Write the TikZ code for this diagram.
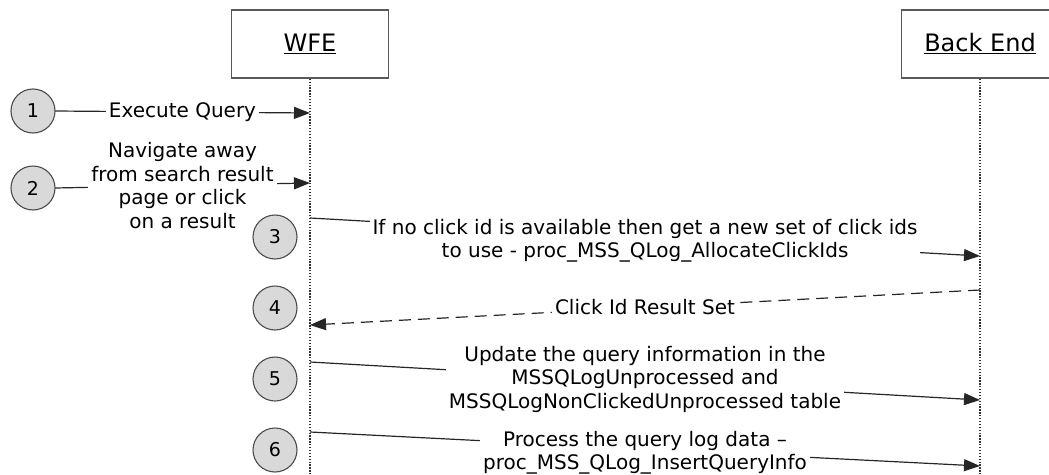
\documentclass[tikz,border=0pt]{standalone}
\usepackage{fontspec}
\setmainfont{DejaVu Sans}
\usetikzlibrary{arrows.meta,positioning}

\tikzset{
  lifebox/.style={draw=black!65, line width=1.4pt, minimum width=157pt,
    minimum height=68pt, inner sep=0pt, font=\fontsize{24}{26}\selectfont},
  lifeline/.style={draw=black!80, line width=1.3pt, dash pattern=on 1.3pt off 1.6pt},
  stepnum/.style={circle, draw=black!70, fill=black!15, line width=1.1pt,
    minimum size=44pt, inner sep=0pt, font=\fontsize{19}{20}\selectfont},
  msg/.style={draw=black!85, line width=1.2pt, -{Triangle[length=16pt,width=12pt]}},
  reply/.style={msg, dash pattern=on 12pt off 7pt},
  msgtext/.style={fill=white, align=center, inner sep=3pt,
    font=\fontsize{20}{23.5}\selectfont}
}

\begin{document}
\begin{tikzpicture}[x=1pt,y=-1pt]
      \clip (0,0) rectangle (1049,474);
      \node[lifebox] (wfe) at (310,44) {\underline{WFE}};
      \node[lifebox] (be) at (980,44) {\underline{Back End}};
      \coordinate (wfeend) at (310,474);
      \coordinate (beend) at (980,474);
      \draw[lifeline] (wfe) -- (wfeend);
      \draw[lifeline] (be) -- (beend);
      \coordinate (w1) at (310,113);
      \coordinate (w2) at (310,183);
      \coordinate (w3) at (310,218);
      \coordinate (b3) at (980,256);
      \coordinate (b4) at (980,290);
      \coordinate (w4) at (310,325);
      \coordinate (w5) at (310,362);
      \coordinate (b5) at (980,400);
      \coordinate (w6) at (310,432);
      \coordinate (b6) at (980,466);
      \coordinate (s1e) at (55,111);
      \coordinate (s2e) at (55,188);
      \draw[msg] (s1e) -- node[msgtext] {Execute Query} (w1);
      \draw[msg] (s2e) -- node[msgtext] {Navigate away\\from search result\\page or click\\on a result} (w2);
      \draw[msg] (w3) -- node[msgtext, yshift=-4pt] {If no click id is available then get a new set of click ids\\to use - proc\_MSS\_QLog\_AllocateClickIds} (b3);
      \draw[reply] (b4) -- node[msgtext] {Click Id Result Set} (w4);
      \draw[msg] (w5) -- node[msgtext, yshift=2pt] {Update the query information in the\\MSSQLogUnprocessed and\\MSSQLogNonClickedUnprocessed table} (b5);
      \draw[msg] (w6) -- node[msgtext, yshift=-4pt] {Process the query log data --\\proc\_MSS\_QLog\_InsertQueryInfo} (b6);
      \node[stepnum] (s1) at (33,111) {1};
      \node[stepnum] (s2) at (33,188) {2};
      \node[stepnum] (s3) at (275,237) {3};
      \node[stepnum] (s4) at (275,308) {4};
      \node[stepnum] (s5) at (275,379) {5};
      \node[stepnum] (s6) at (275,450) {6};
\end{tikzpicture}
\end{document}
